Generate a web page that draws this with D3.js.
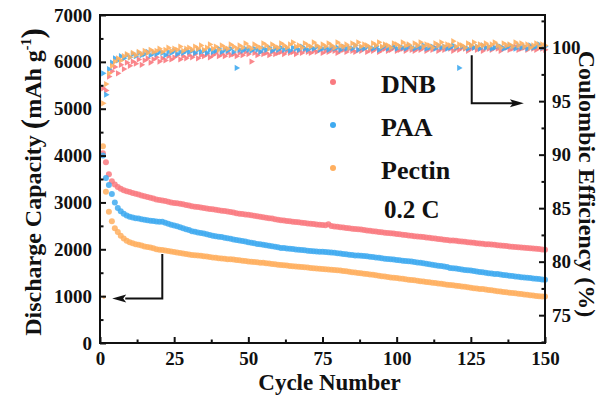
<!DOCTYPE html>
<html>
<head>
<meta charset="utf-8">
<script src="https://cdn.jsdelivr.net/npm/d3@7"></script>
<style>
  body { margin: 0; background: #fff; }
  svg text { font-family: "Liberation Serif", "Times New Roman", serif; font-weight: bold; fill: #111; }
</style>
</head>
<body>
<div id="chart"></div>
<script>
const width = 602,
  height = 401;

const series = ["DNB", "PAA", "Pectin"];
const colors = ["#F97A80", "#3FAAF0", "#FFAF5F"];

// discharge capacity (mAh g-1), cycles 1..150
const capDNB = [
  4050, 3860, 3600, 3450, 3380, 3330, 3290, 3260, 3240, 3220,
  3200, 3185, 3170, 3150, 3130, 3115, 3100, 3085, 3065, 3050,
  3040, 3030, 3015, 3000, 2990, 2980, 2970, 2960, 2945, 2935,
  2920, 2910, 2900, 2890, 2880, 2870, 2860, 2855, 2845, 2835,
  2825, 2815, 2805, 2795, 2785, 2770, 2760, 2755, 2745, 2735,
  2725, 2715, 2705, 2695, 2685, 2675, 2665, 2655, 2640, 2630,
  2620, 2615, 2605, 2600, 2590, 2580, 2575, 2565, 2560, 2550,
  2545, 2540, 2530, 2525, 2520, 2515, 2535, 2495, 2485, 2480,
  2470, 2465, 2455, 2450, 2440, 2435, 2425, 2420, 2410, 2400,
  2395, 2385, 2380, 2370, 2365, 2355, 2350, 2340, 2335, 2325,
  2320, 2310, 2305, 2295, 2290, 2280, 2275, 2265, 2260, 2250,
  2245, 2235, 2230, 2220, 2215, 2205, 2200, 2190, 2185, 2180,
  2170, 2165, 2160, 2150, 2145, 2140, 2130, 2125, 2120, 2110,
  2105, 2100, 2095, 2085, 2080, 2075, 2070, 2060, 2055, 2050,
  2045, 2040, 2035, 2030, 2020, 2015, 2010, 2005, 1995, 1990
];
const capPAA = [
  4000, 3520, 3370, 3180, 3000, 2880, 2810, 2760, 2720, 2695,
  2680, 2665, 2655, 2640, 2630, 2620, 2610, 2605, 2595, 2585,
  2590, 2565, 2545, 2525, 2510, 2490, 2470, 2450, 2430, 2410,
  2385, 2375, 2360, 2345, 2335, 2320, 2305, 2290, 2280, 2270,
  2260, 2245, 2235, 2225, 2210, 2200, 2190, 2175, 2165, 2150,
  2140, 2130, 2115, 2105, 2095, 2085, 2075, 2065, 2055, 2045,
  2030, 2025, 2015, 2010, 2005, 1995, 1990, 1985, 1980, 1970,
  1965, 1960, 1955, 1950, 1945, 1940, 1935, 1930, 1925, 1915,
  1910, 1900, 1895, 1885, 1880, 1870, 1865, 1860, 1855, 1850,
  1840, 1835, 1825, 1820, 1810, 1800, 1795, 1785, 1780, 1770,
  1765, 1755, 1750, 1745, 1740, 1730, 1720, 1710, 1700, 1690,
  1680, 1670, 1660, 1650, 1645, 1630, 1620, 1600, 1595, 1590,
  1580, 1570, 1560, 1550, 1545, 1535, 1525, 1515, 1510, 1500,
  1490, 1485, 1475, 1470, 1460, 1450, 1445, 1435, 1430, 1420,
  1415, 1405, 1400, 1390, 1385, 1375, 1370, 1365, 1355, 1350
];
const capPectin = [
  4200, 3230, 2800, 2600, 2450, 2370, 2290, 2230, 2180, 2150,
  2130, 2110, 2095, 2080, 2060, 2050, 2040, 2020, 2000, 1990,
  1985, 1975, 1965, 1955, 1940, 1930, 1920, 1910, 1900, 1890,
  1880, 1875, 1865, 1860, 1850, 1845, 1835, 1825, 1820, 1810,
  1805, 1800, 1790, 1785, 1780, 1770, 1765, 1755, 1750, 1740,
  1735, 1730, 1725, 1715, 1710, 1700, 1695, 1685, 1680, 1670,
  1665, 1660, 1655, 1645, 1640, 1635, 1625, 1620, 1615, 1610,
  1600, 1595, 1590, 1585, 1580, 1575, 1570, 1565, 1560, 1555,
  1545, 1535, 1530, 1520, 1510, 1505, 1495, 1490, 1480, 1470,
  1460, 1455, 1445, 1435, 1425, 1420, 1410, 1400, 1395, 1385,
  1375, 1370, 1360, 1350, 1345, 1340, 1330, 1320, 1310, 1300,
  1295, 1285, 1280, 1270, 1265, 1255, 1245, 1240, 1230, 1220,
  1215, 1205, 1200, 1190, 1180, 1170, 1165, 1155, 1150, 1140,
  1130, 1125, 1115, 1105, 1100, 1090, 1085, 1075, 1065, 1060,
  1050, 1045, 1035, 1030, 1020, 1015, 1005, 1000, 995, 990
];
// lone small pectin marker near the left arrow: [cycle, capacity]
const pectinStray = [[1.3, 980]];

// coulombic efficiency (%), cycles 1..150
const ceDNB = [
  96.2, 96.0, 97.3, 97.8, 98.2, 97.6, 98.4, 98.0, 98.6, 98.3,
  98.7, 98.5, 98.9, 98.4, 98.8, 99.0, 98.6, 98.9, 99.1, 98.7,
  99.0, 98.8, 99.2, 98.9, 99.1, 99.3, 98.9, 99.2, 99.0, 99.3,
  99.1, 99.4, 99.0, 99.3, 99.2, 99.4, 99.1, 99.3, 99.5, 99.2,
  99.4, 99.2, 99.5, 99.3, 99.4, 99.2, 99.5, 99.3, 99.6, 99.4,
  98.7, 99.5, 99.3, 99.6, 99.4, 99.5, 99.3, 99.6, 99.4, 99.5,
  99.6, 99.4, 99.7, 99.5, 99.6, 99.4, 99.7, 99.5, 99.8, 99.6,
  99.5, 99.7, 99.6, 99.8, 99.5, 99.7, 99.6, 99.8, 99.7, 99.5,
  99.7, 99.8, 99.6, 99.9, 99.7, 99.6, 99.8, 99.7, 99.9, 99.6,
  99.8, 99.7, 99.9, 99.6, 99.8, 99.9, 99.7, 99.8, 100.0, 99.7,
  99.8, 99.9, 99.7, 100.0, 99.8, 99.7, 99.9, 99.8, 100.0, 99.7,
  99.9, 99.8, 100.0, 99.7, 99.9, 99.8, 100.0, 99.9, 99.7, 99.9,
  99.8, 100.0, 99.9, 99.7, 99.9, 100.0, 99.8, 99.9, 99.7, 100.0,
  99.9, 99.8, 100.0, 99.9, 99.7, 99.9, 100.0, 99.8, 99.9, 100.1,
  99.8, 99.9, 100.0, 99.8, 100.1, 99.9, 99.8, 100.0, 99.9, 99.8
];
const cePAA = [
  97.6, 95.6, 98.0, 98.6, 99.0, 98.8, 99.2, 99.0, 99.3, 99.1,
  99.4, 99.2, 99.5, 99.3, 99.4, 99.6, 99.3, 99.5, 99.4, 99.6,
  99.5, 99.3, 99.6, 99.5, 99.7, 99.4, 99.6, 99.5, 99.7, 99.6,
  99.7, 99.5, 99.8, 99.6, 99.7, 99.5, 99.8, 99.6, 99.7, 99.9,
  99.6, 99.8, 99.7, 99.9, 99.6, 98.1, 99.8, 99.7, 99.9, 99.8,
  99.7, 99.9, 99.8, 99.6, 99.9, 99.8, 100.0, 99.7, 99.9, 99.8,
  100.0, 99.8, 99.9, 99.7, 100.0, 99.9, 99.8, 100.1, 99.9, 99.8,
  100.0, 99.9, 100.1, 99.8, 99.9, 100.0, 99.8, 100.1, 99.9, 100.0,
  99.8, 100.1, 99.9, 100.0, 99.9, 100.2, 99.8, 100.0, 99.9, 100.1,
  100.0, 99.9, 100.1, 99.8, 100.0, 100.2, 99.9, 100.0, 100.1, 99.9,
  100.1, 100.0, 99.9, 100.2, 100.0, 99.9, 100.1, 100.0, 100.2, 99.9,
  100.0, 100.1, 99.9, 100.2, 100.0, 100.1, 99.9, 100.0, 100.2, 100.0,
  98.1, 100.1, 100.0, 99.9, 100.2, 100.0, 100.1, 99.9, 100.2, 100.0,
  100.1, 99.9, 100.0, 100.2, 100.1, 99.9, 100.0, 100.2, 100.1, 99.9,
  100.2, 100.0, 100.1, 99.9, 100.2, 100.0, 100.1, 100.3, 100.0, 100.1
];
const cePectin = [
  94.8, 96.6, 97.6, 98.3, 98.7, 99.0, 98.8, 99.2, 99.4, 99.1,
  99.5, 99.3, 99.6, 99.4, 99.7, 99.5, 99.8, 99.6, 99.7, 99.9,
  99.6, 99.8, 100.0, 99.7, 99.9, 99.8, 100.1, 99.7, 99.9, 100.0,
  99.8, 100.1, 99.9, 100.2, 99.8, 100.0, 100.3, 99.9, 100.1, 99.8,
  100.2, 100.0, 99.9, 100.3, 100.1, 99.9, 100.2, 100.0, 100.4, 100.1,
  99.9, 100.3, 100.1, 100.0, 100.4, 100.2, 99.9, 100.3, 100.1, 100.0,
  100.4, 100.2, 100.0, 100.3, 100.5, 100.1, 100.2, 100.0, 100.4, 100.2,
  100.1, 100.5, 100.2, 100.0, 100.3, 100.1, 100.4, 100.2, 100.0, 100.5,
  100.2, 100.1, 100.3, 100.0, 100.4, 100.2, 100.5, 100.1, 100.3, 100.2,
  100.0, 100.4, 100.2, 100.5, 100.1, 100.3, 100.2, 100.0, 100.4, 100.3,
  100.1, 100.5, 100.2, 100.3, 100.0, 100.4, 100.2, 100.5, 100.1, 100.3,
  100.2, 100.0, 100.4, 100.2, 100.5, 100.1, 100.3, 100.2, 100.6, 100.1,
  100.3, 100.2, 100.0, 100.4, 100.2, 100.5, 100.1, 100.3, 100.2, 100.4,
  100.1, 100.3, 100.5, 100.2, 100.0, 100.4, 100.2, 100.3, 100.1, 100.5,
  100.2, 100.4, 100.1, 100.3, 100.0, 100.2, 100.4, 100.1, 100.3, 100.2
];

const capTicks = [0, 1000, 2000, 3000, 4000, 5000, 6000, 7000];
const cycleTicks = [0, 25, 50, 75, 100, 125, 150];
const ceTicks = [75, 80, 85, 90, 95, 100];

const capData = [capDNB, capPAA, capPectin];
const ceData = [ceDNB, cePAA, cePectin];

const margin = { top: 15, right: 57, bottom: 58, left: 100 };

const x = d3.scaleLinear().domain([0, 150]).range([margin.left, width - margin.right]);
const yCap = d3.scaleLinear().domain([0, 7000]).range([height - margin.bottom, margin.top]);
const yCE = d3.scaleLinear().domain([72.4, 103.05]).range([height - margin.bottom, margin.top]);

const svg = d3.select("#chart")
  .append("svg")
  .attr("width", width)
  .attr("height", height);

svg.append("rect").attr("width", width).attr("height", height).attr("fill", "#fff");

// CE markers (right-pointing triangles)
const tri = d3.symbol().type(d3.symbolTriangle).size(17);
ceData.forEach((arr, i) => {
  svg.append("g")
    .selectAll("path")
    .data(arr)
    .join("path")
    .attr("d", tri)
    .attr("transform", (d, j) => `translate(${x(j + 1)},${yCE(d)}) rotate(90)`)
    .attr("fill", colors[i])
    .attr("opacity", 0.9);
});

// capacity markers
capData.forEach((arr, i) => {
  svg.append("g")
    .selectAll("circle")
    .data(arr)
    .join("circle")
    .attr("cx", (d, j) => x(j + 1))
    .attr("cy", d => yCap(d))
    .attr("r", 3)
    .attr("fill", colors[i])
    .attr("fill-opacity", 0.85);
});

svg.append("g")
  .selectAll("circle")
  .data(pectinStray)
  .join("circle")
  .attr("cx", d => x(d[0]))
  .attr("cy", d => yCap(d[1]))
  .attr("r", 1.6)
  .attr("fill", colors[2]);

// axes, ticks inward
const fontSize = 19;
function styleAxis(g) {
  g.select(".domain").remove();
  g.selectAll("line").attr("stroke", "#111").attr("stroke-width", 2);
  g.selectAll("text")
    .attr("font-size", fontSize)
    .attr("fill", "#111")
    .style("font-family", "'Liberation Serif', 'Times New Roman', serif")
    .style("font-weight", "bold");
}

const bottom = height - margin.bottom;
const right = width - margin.right;
const fmt = d3.format("d");

svg.append("g")
  .attr("transform", `translate(0,${bottom})`)
  .call(d3.axisBottom(x).tickValues(cycleTicks).tickFormat(fmt).tickSizeInner(-6).tickSizeOuter(0).tickPadding(9))
  .call(styleAxis);
svg.append("g")
  .attr("transform", `translate(0,${bottom})`)
  .call(d3.axisBottom(x).tickValues(cycleTicks.slice(1).map(v => v - 12.5)).tickSizeInner(-3.5).tickSizeOuter(0).tickFormat(""))
  .call(styleAxis);

svg.append("g")
  .attr("transform", `translate(${margin.left},0)`)
  .call(d3.axisLeft(yCap).tickValues(capTicks).tickFormat(fmt).tickSizeInner(-6).tickSizeOuter(0).tickPadding(8))
  .call(styleAxis);
svg.append("g")
  .attr("transform", `translate(${margin.left},0)`)
  .call(d3.axisLeft(yCap).tickValues(capTicks.slice(1).map(v => v - 500)).tickSizeInner(-3.5).tickSizeOuter(0).tickFormat(""))
  .call(styleAxis);

svg.append("g")
  .attr("transform", `translate(${right},0)`)
  .call(d3.axisRight(yCE).tickValues(ceTicks).tickFormat(fmt).tickSizeInner(-6).tickSizeOuter(0).tickPadding(7))
  .call(styleAxis);
svg.append("g")
  .attr("transform", `translate(${right},0)`)
  .call(d3.axisRight(yCE).tickValues([72.5, ...ceTicks.map(v => v + 2.5)]).tickSizeInner(-3.5).tickSizeOuter(0).tickFormat(""))
  .call(styleAxis);

// frame
svg.append("rect")
  .attr("x", margin.left)
  .attr("y", margin.top)
  .attr("width", right - margin.left)
  .attr("height", bottom - margin.top)
  .attr("fill", "none")
  .attr("stroke", "#111")
  .attr("stroke-width", 2);

// axis titles
svg.append("text")
  .attr("x", (margin.left + right) / 2 + 7)
  .attr("y", 390)
  .attr("text-anchor", "middle")
  .attr("font-size", 23)
  .text("Cycle Number");

const yl = svg.append("text")
  .attr("transform", `translate(41,182) rotate(-90)`)
  .attr("text-anchor", "middle")
  .attr("font-size", 24);
yl.append("tspan").text("Discharge Capacity ");
yl.append("tspan").attr("font-size", 31).attr("dy", 2).text("(");
yl.append("tspan").attr("dy", -2).text("mAh g");
yl.append("tspan").attr("font-size", 14).attr("dy", -10).text("-1");
yl.append("tspan").attr("font-size", 31).attr("dy", 12).text(")");

svg.append("text")
  .attr("transform", `translate(579,184) rotate(90)`)
  .attr("text-anchor", "middle")
  .attr("font-size", 24)
  .text("Coulombic Efficiency (%)");

// legend
const legendY = [82, 125, 168];
series.forEach((s, i) => {
  svg.append("circle")
    .attr("cx", 333)
    .attr("cy", legendY[i])
    .attr("r", 3)
    .attr("fill", colors[i]);
  svg.append("text")
    .attr("x", 381)
    .attr("y", legendY[i] + 11)
    .attr("font-size", 26)
    .text(s);
});
svg.append("text")
  .attr("x", 384)
  .attr("y", 218)
  .attr("font-size", 25)
  .text("0.2 C");

// arrows pointing to each axis
const arrowL = [[21, 1900], [21, 950], [8.5, 950]];
const arrowR = [[125.3, 99.3], [125.3, 94.8], [139.5, 94.8]];

svg.append("path")
  .attr("d", d3.line()(arrowL.map(d => [x(d[0]), yCap(d[1])])))
  .attr("fill", "none").attr("stroke", "#111").attr("stroke-width", 2);
svg.append("path")
  .attr("d", d3.line()(arrowR.map(d => [x(d[0]), yCE(d[1])])))
  .attr("fill", "none").attr("stroke", "#111").attr("stroke-width", 2);

const tipL = [x(arrowL[2][0]) - 13, yCap(arrowL[2][1])];
svg.append("path")
  .attr("d", `M${tipL[0]},${tipL[1]}L${tipL[0] + 14},${tipL[1] - 4}L${tipL[0] + 11},${tipL[1]}L${tipL[0] + 14},${tipL[1] + 4}Z`)
  .attr("fill", "#111");
const tipR = [x(arrowR[2][0]) + 10, yCE(arrowR[2][1])];
svg.append("path")
  .attr("d", `M${tipR[0]},${tipR[1]}L${tipR[0] - 14},${tipR[1] - 4}L${tipR[0] - 11},${tipR[1]}L${tipR[0] - 14},${tipR[1] + 4}Z`)
  .attr("fill", "#111");
</script>
</body>
</html>
